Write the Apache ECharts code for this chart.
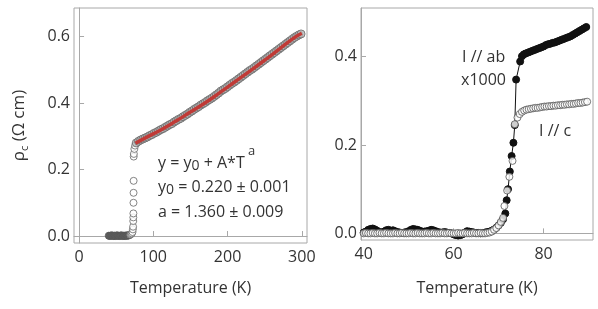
<!DOCTYPE html>
<html><head><meta charset="utf-8">
<script src="https://cdn.jsdelivr.net/npm/echarts@6/dist/echarts.min.js"></script>
<style>html,body{margin:0;padding:0;background:#fff}#c{width:598px;height:309px}</style>
</head><body><div id="c"></div>
<script>
// ---- tick labels ----
const leftTicksX = [0, 100, 200, 300];
const leftTicksY = [0, 0.2, 0.4, 0.6];
const rightTicksX = [40, 60, 80];
const rightTicksY = [0, 0.2, 0.4];

// ---- left panel: rho_c vs T ----
const lowT = [40,41,42,43,44, 45,46,47,48,49,50,51,52,53,54, 55,56,57,58,59,60,61,62,63,64, 65,66,67,68];
const lowRho = [0.001,0.000,0.001,0.001,0.002, 0.001,0.000,0.001,0.001,0.000,0.001,0.002,0.001,0.001,0.000, 0.001,0.001,0.002,0.001,0.000,0.001,0.001,0.000,0.001,0.002, 0.001,0.001,0.002,0.003];
const transT = [69,70,71,72,72.5,72.8,73.0,73.1,73.2,73.3,73.4,73.5,73.6,73.8,74.5,75.5];
const transRho = [0.004,0.006,0.008,0.012,0.020,0.028,0.045,0.056,0.068,0.100,0.130,0.166,0.239,0.247,0.262,0.272];
const mainT = [77,80,83,86,89,92,95,98,101,104,107,110,113,116,119,122,125,128,131,134,137,140,143,146,149,152,155,158,161,164,167,170,173,176,179,182,185,188,191,194,197,200,203,206,209,212,215,218,221,224,227,230,233,236,239,242,245,248,251,254,257,260,263,266,269,272,275,278,281,284,287,290,293,296,299];
const mainRho = [0.280,0.285,0.289,0.292,0.295,0.298,0.302,0.305,0.309,0.312,0.316,0.320,0.323,0.327,0.331,0.335,0.338,0.343,0.347,0.351,0.354,0.359,0.363,0.367,0.372,0.376,0.381,0.385,0.389,0.394,0.398,0.402,0.407,0.411,0.415,0.420,0.425,0.430,0.436,0.440,0.444,0.449,0.454,0.459,0.463,0.468,0.473,0.478,0.483,0.488,0.493,0.498,0.502,0.507,0.512,0.517,0.522,0.527,0.532,0.537,0.542,0.547,0.552,0.557,0.562,0.567,0.572,0.577,0.582,0.587,0.592,0.597,0.601,0.605,0.608];
const fitT = [76,90,110,130,150,170,190,210,230,250,270,290,300];
const fitRho = [0.279,0.296,0.319,0.345,0.373,0.401,0.432,0.464,0.496,0.529,0.563,0.597,0.610];

// ---- right panel: I // ab (x1000) and I // c ----
const abT = [40,40.5,41,41.5,42,42.5,43,43.5,44,44.5, 45,45.5,46,46.5,47,47.5,48,48.5,49,49.5, 50,50.5,51,51.5,52,52.5,53,53.5,54,54.5, 55,55.5,56,56.5,57,57.5,58,58.5,59,59.5, 60,60.5,61,61.5,62,62.5,63,63.5,64,64.5, 65,65.5,66,66.5,67,67.5,68,
  68.5,69,69.5,70,70.5,71,71.5,71.8,72.1,72.5,72.9,73.3,73.6,73.9,74.8,75.2,75.6,76,76.5,77,77.5,78,78.5,79,79.5,80,80.5,81,81.5,82,82.5,83,83.5,84,84.5,85,85.5,86,86.5,87,87.5,88,88.5,89,89.5];
const abRho = [0.002,0.004,0.008,0.010,0.011,0.009,0.006,0.003,0.002,0.004, 0.007,0.008,0.006,0.007,0.005,0.003,0.002,0.001,0.002,0.003, 0.005,0.008,0.010,0.009,0.008,0.006,0.004,0.004,0.005,0.006, 0.008,0.007,0.005,0.003,0.002,0.002,0.003,0.002,0.001,0.000, -0.002,-0.004,-0.005,-0.004,-0.002,0.002,0.005,0.004,0.003,0.002, 0.001,0.001,0.000,0.001,0.002,0.003,0.004,
  0.006,0.009,0.013,0.018,0.024,0.032,0.045,0.075,0.100,0.140,0.175,0.205,0.245,0.348,0.389,0.401,0.405,0.407,0.409,0.411,0.413,0.415,0.417,0.419,0.421,0.423,0.426,0.428,0.429,0.431,0.432,0.434,0.436,0.438,0.440,0.442,0.444,0.446,0.449,0.452,0.455,0.458,0.461,0.464,0.467];
const cT = [40,40.5,41,41.5,42,42.5,43,43.5,44,44.5, 45,45.5,46,46.5,47,47.5,48,48.5,49,49.5, 50,50.5,51,51.5,52,52.5,53,53.5,54,54.5, 55,55.5,56,56.5,57,57.5,58,58.5,59,59.5, 60,60.5,61,61.5,62,62.5,63,63.5,64,64.5, 65,65.5,66,66.5,67,67.5,
  68,68.5,69,69.5,70,70.5,71,71.3,71.9,72.4,73.1,73.6,74.2,74.7,75.2,75.7,76.2,76.7,77.2,77.7,78.2,78.7,79.2,79.7,80.2,80.7,81.2,81.7,82.2,82.7,83.2,83.7,84.2,84.7,85.2,85.7,86.2,86.7,87.2,87.7,88.2,88.7,89.2,89.7];
const cRho = [0.000,0.001,0.000,0.000,0.001,0.000,0.000,0.001,0.000,0.000, 0.001,0.000,0.000,0.000,0.001,0.000,0.000,0.001,0.000,0.000, 0.000,0.001,0.000,0.000,0.001,0.000,0.000,0.000,0.001,0.000, 0.000,0.001,0.000,0.000,0.000,0.001,0.000,0.000,0.001,0.000, 0.000,0.000,0.001,0.000,0.000,0.001,0.000,0.000,0.000,0.001, 0.000,0.000,0.001,0.000,0.000,0.001,
  0.002,0.004,0.008,0.012,0.018,0.026,0.035,0.062,0.097,0.128,0.164,0.247,0.262,0.270,0.275,0.278,0.280,0.281,0.282,0.283,0.284,0.284,0.285,0.286,0.287,0.287,0.288,0.288,0.289,0.289,0.290,0.290,0.291,0.291,0.292,0.292,0.293,0.293,0.294,0.295,0.295,0.296,0.297,0.298];

const zip = (a, b) => a.map((v, i) => [v, b[i]]);

const FONT = '"Open Sans", sans-serif';
const TXT = '#333';
const AX = '#a8a8a8';

function xAxisCfg(idx, min, max, ticks, gap) {
  return {
    gridIndex: idx, type: 'value', min: min, max: max,
    name: 'Temperature (K)', nameLocation: 'middle', nameGap: gap,
    nameTextStyle: { color: TXT, fontSize: 16, fontFamily: FONT },
    axisLine: { show: true, lineStyle: { color: AX } },
    axisTick: { show: true, inside: true, length: 5, lineStyle: { color: AX }, customValues: ticks },
    axisLabel: { color: TXT, fontSize: 16, fontFamily: FONT, margin: 6, customValues: ticks, formatter: v => String(v) },
    splitLine: { show: false }
  };
}
function yAxisCfg(idx, min, max, ticks, extra) {
  return Object.assign({
    gridIndex: idx, type: 'value', min: min, max: max,
    axisLine: { show: true, lineStyle: { color: AX } },
    axisTick: { show: true, inside: true, length: 5, lineStyle: { color: AX }, customValues: ticks },
    axisLabel: { color: TXT, fontSize: 16, fontFamily: FONT, margin: 4, customValues: ticks, formatter: v => v.toFixed(1) },
    splitLine: { show: false }
  }, extra || {});
}

const N = { fontSize: 16, fontFamily: FONT, fill: TXT, color: TXT, lineHeight: 20 };
const SB = { fontSize: 14, fontFamily: FONT, fill: TXT, color: TXT, lineHeight: 14, verticalAlign: 'bottom' };

const chart = echarts.init(document.getElementById('c'), null, { renderer: 'canvas' });
chart.setOption({
  animation: false,
  backgroundColor: '#fff',
  grid: [
    { left: 74, top: 8, width: 233, height: 235, show: true, borderColor: AX, borderWidth: 1 },
    { left: 361, top: 8, width: 232, height: 232, show: true, borderColor: AX, borderWidth: 1 }
  ],
  xAxis: [
    xAxisCfg(0, -6.8, 307, leftTicksX, 37),
    xAxisCfg(1, 39.4, 91, rightTicksX, 40)
  ],
  yAxis: [
    yAxisCfg(0, -0.021, 0.686, leftTicksY, {
      name: '{r|ρ}{s|c}{r| (Ω cm)}', nameLocation: 'middle', nameGap: 44,
      nameTextStyle: { color: TXT, fontFamily: FONT, rich: {
        r: { fontSize: 17, fontFamily: FONT, color: TXT, lineHeight: 22 },
        s: { fontSize: 11, fontFamily: FONT, color: TXT, lineHeight: 12, verticalAlign: 'bottom' }
      } }
    }),
    yAxisCfg(1, -0.015, 0.51, rightTicksY)
  ],
  series: [
    { type: 'scatter', xAxisIndex: 0, yAxisIndex: 0, data: zip(lowT, lowRho), symbolSize: 7,
      itemStyle: { color: '#6a6a6a', borderColor: '#555', borderWidth: 1 } },
    { type: 'scatter', xAxisIndex: 0, yAxisIndex: 0, data: zip(transT, transRho), symbolSize: 7,
      itemStyle: { color: '#fff', borderColor: '#666', borderWidth: 1 } },
    { type: 'scatter', xAxisIndex: 0, yAxisIndex: 0, data: zip(mainT, mainRho), symbolSize: 8,
      itemStyle: { color: '#b5b5b5', borderColor: '#666', borderWidth: 1 } },
    { type: 'line', xAxisIndex: 0, yAxisIndex: 0, data: zip(fitT, fitRho), smooth: true, symbol: 'none',
      lineStyle: { color: '#c03a36', width: 3.5 }, z: 5 },
    { type: 'line', xAxisIndex: 1, yAxisIndex: 1, data: zip(abT, abRho), symbol: 'circle', symbolSize: 7,
      lineStyle: { color: '#111', width: 1 }, itemStyle: { color: '#111', borderColor: '#111' }, z: 2 },
    { type: 'scatter', xAxisIndex: 1, yAxisIndex: 1, data: zip(cT, cRho), symbolSize: 7,
      itemStyle: { color: '#fff', borderColor: '#555', borderWidth: 1 }, z: 3 }
  ],
  graphic: [
    { type: 'text', x: 158, y: 163, style: { text: '{n|y = y}{sb|0}{n| + A*T}', verticalAlign: 'middle', fill: TXT,
      rich: { n: N, sb: SB } } },
    { type: 'text', x: 248, y: 151, style: { text: 'a', verticalAlign: 'middle', fill: TXT, fontSize: 13, fontFamily: FONT } },
    { type: 'text', x: 158, y: 187, style: { text: '{n|y}{sb|0}{n| = 0.220 ± 0.001}', verticalAlign: 'middle', fill: TXT,
      rich: { n: N, sb: SB } } },
    { type: 'text', x: 158, y: 212, style: { text: 'a = 1.360 ± 0.009', verticalAlign: 'middle', fill: TXT, fontSize: 16, fontFamily: FONT } },
    { type: 'text', x: 462, y: 57, style: { text: 'I // ab', verticalAlign: 'middle', fill: TXT, fontSize: 16, fontFamily: FONT } },
    { type: 'text', x: 461, y: 80, style: { text: 'x1000', verticalAlign: 'middle', fill: TXT, fontSize: 16, fontFamily: FONT } },
    { type: 'text', x: 539, y: 131, style: { text: 'I // c', verticalAlign: 'middle', fill: TXT, fontSize: 16, fontFamily: FONT } }
  ]
});
</script>
</body></html>
